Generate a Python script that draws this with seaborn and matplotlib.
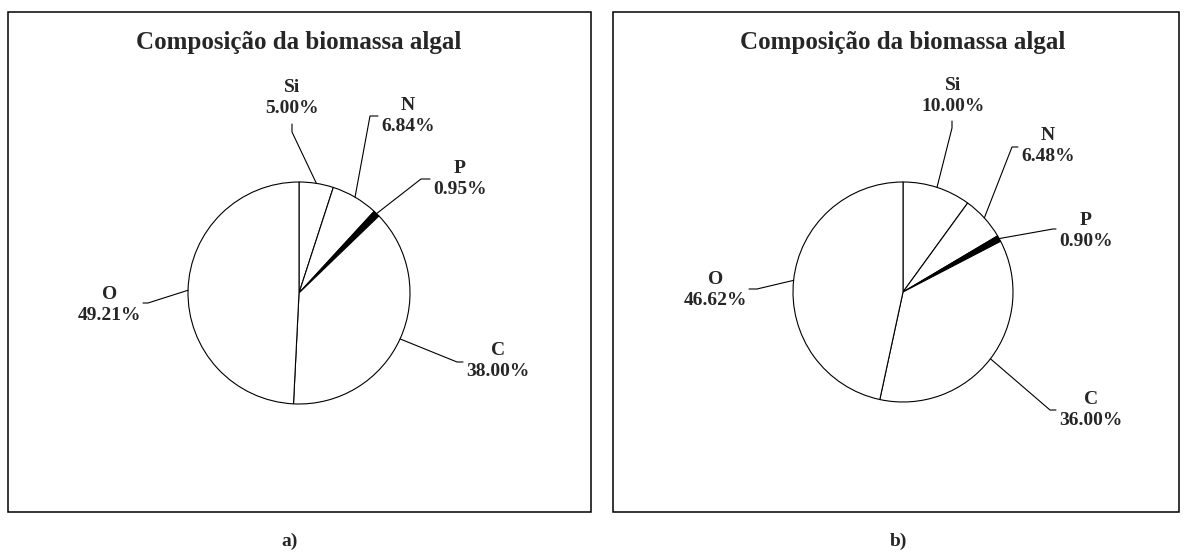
import matplotlib
matplotlib.use("Agg")
import matplotlib.pyplot as plt
import seaborn as sns
import numpy as np
from matplotlib.patches import Rectangle

sns.set_theme(style="white")
plt.rcParams['font.family'] = ['Liberation Serif', 'DejaVu Serif']
plt.rcParams['font.weight'] = 'bold'

# data
elements = ['Si', 'N', 'P', 'C', 'O']
values_a = [5.00, 6.84, 0.95, 38.00, 49.21]
values_b = [10.00, 6.48, 0.90, 36.00, 46.62]
slice_colors = ['white', 'white', 'black', 'white', 'white']
title = 'Composição da biomassa algal'
captions = ['a)', 'b)']

# layout in pixel units (y grows downward)
panels = [
    dict(values=values_a, box=(8, 12, 591, 512), center=(299, 293), radius=111,
         title_xy=(299, 43), caption_xy=(290, 541),
         knees={'Si': [(292, 132), (292, 124)], 'N': [(370, 116), (378, 116)],
                'P': [(421, 179), (430, 179)], 'C': [(457, 362), (463, 362)],
                'O': [(148, 303), (143, 303)]},
         text={'Si': (292, 98, 'center'), 'N': (381, 116, 'left'), 'P': (433, 179, 'left'),
               'C': (466, 361, 'left'), 'O': (141, 305, 'right')}),
    dict(values=values_b, box=(613, 12, 1179, 512), center=(903, 292), radius=110,
         title_xy=(903, 43), caption_xy=(898, 541),
         knees={'Si': [(952, 128), (952, 121)], 'N': [(1012, 147), (1018, 147)],
                'P': [(1053, 229), (1056, 229)], 'C': [(1050, 410), (1056, 410)],
                'O': [(757, 289), (749, 289)]},
         text={'Si': (953, 96, 'center'), 'N': (1021, 146, 'left'), 'P': (1059, 231, 'left'),
               'C': (1059, 410, 'left'), 'O': (747, 290, 'right')}),
]

W, H = 1188, 552
fig = plt.figure(figsize=(W / 100, H / 100), dpi=100)
fig.patch.set_facecolor('white')
ax = fig.add_axes([0, 0, 1, 1])

for pnl in panels:
    x0, y0, x1, y1 = pnl['box']
    ax.add_patch(Rectangle((x0, y0), x1 - x0, y1 - y0, fill=False,
                           edgecolor='black', linewidth=1.1, zorder=1))
    cx, cy = pnl['center']
    r = pnl['radius']
    # y axis is inverted, so counterclock in data space is clockwise on screen
    wedges, _ = ax.pie(pnl['values'], colors=slice_colors, startangle=-90,
                       counterclock=True, center=(cx, cy), radius=r, frame=True,
                       wedgeprops=dict(edgecolor='black', linewidth=0.8))
    for w, name, val in zip(wedges, elements, pnl['values']):
        mid = np.deg2rad((w.theta1 + w.theta2) / 2)
        rim = (cx + r * np.cos(mid), cy + r * np.sin(mid))
        pts = [rim] + pnl['knees'][name]
        ax.plot([p[0] for p in pts], [p[1] for p in pts], color='black', lw=0.8, zorder=3)
        tx, ty, ha = pnl['text'][name]
        ax.text(tx, ty, f'{name}\n{val:.2f}%', ha=ha, va='center', fontsize=14,
                fontweight='bold', linespacing=1.35, multialignment='center')
    ax.text(*pnl['title_xy'], title, ha='center', va='center', fontsize=18, fontweight='bold')

for pnl, cap in zip(panels, captions):
    ax.text(*pnl['caption_xy'], cap, ha='center', va='center', fontsize=14, fontweight='bold')

ax.set_xlim(0, W)
ax.set_ylim(H, 0)
ax.set_aspect('auto')
ax.axis('off')

fig.savefig('out.png', dpi=100, facecolor='white')
